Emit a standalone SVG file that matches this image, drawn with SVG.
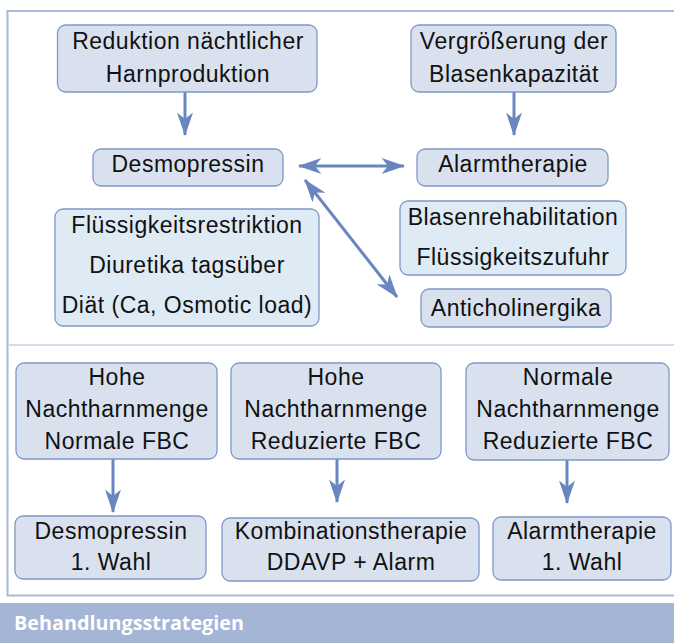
<svg xmlns="http://www.w3.org/2000/svg" width="674" height="643" viewBox="0 0 674 643">
<style>
.n{fill:#d9e1ef;stroke:#7f98c8;stroke-width:1.3}
.l{fill:#deeaf4;stroke:#7f98c8;stroke-width:1.3}
.t{font-family:"Liberation Sans",Arial,sans-serif;font-size:23px;letter-spacing:0.5px;fill:#111;text-anchor:middle}
.c{stroke:#6a86c0;stroke-width:3;fill:none}
</style>
<defs>
<marker id="ah" markerUnits="userSpaceOnUse" markerWidth="24" markerHeight="16" viewBox="0 0 22 15" refX="21" refY="7.5" orient="auto-start-reverse">
<path d="M0,0 L22,7.5 L0,15 L6,7.5 Z" fill="#6a86c0"/>
</marker>
</defs>
<rect x="0" y="0" width="674" height="643" fill="#fff"/>
<g id="frame">
<path d="M674,11 H7.5 V595.5 H674" fill="none" stroke="#a9b9da" stroke-width="2"/>
<line x1="8" y1="345" x2="674" y2="345" stroke="#d5dceb" stroke-width="2"/>
<rect x="0" y="603" width="674" height="40" fill="#a5b5d6"/>
<text x="14" y="630" font-family="'Open Sans','Liberation Sans',sans-serif" font-weight="bold" font-size="19.8px" fill="#fff">Behandlungsstrategien</text>
</g>
<g id="connectors">
<line class="c" x1="185" y1="92" x2="185" y2="135" marker-end="url(#ah)"/>
<line class="c" x1="514" y1="92" x2="514" y2="135" marker-end="url(#ah)"/>
<line class="c" x1="299" y1="166" x2="404" y2="166" marker-start="url(#ah)" marker-end="url(#ah)"/>
<line class="c" x1="305" y1="180" x2="397" y2="297" marker-start="url(#ah)" marker-end="url(#ah)"/>
<line class="c" x1="113" y1="459" x2="113" y2="512" marker-end="url(#ah)"/>
<line class="c" x1="337" y1="459" x2="337" y2="502" marker-end="url(#ah)"/>
<line class="c" x1="567" y1="460" x2="567" y2="503" marker-end="url(#ah)"/>
</g>
<g id="n1"><rect class="n" x="57.5" y="25" width="259.5" height="67" rx="8"/>
<text class="t" x="188" y="49">Reduktion nächtlicher</text><text class="t" x="188" y="82">Harnproduktion</text></g>
<g id="n2"><rect class="n" x="411" y="25" width="205" height="67" rx="8"/>
<text class="t" x="514" y="49">Vergrößerung der</text><text class="t" x="514" y="82">Blasenkapazität</text></g>
<g id="n3"><rect class="n" x="93" y="149" width="190" height="37" rx="8"/>
<text class="t" x="188" y="172">Desmopressin</text></g>
<g id="n4"><rect class="n" x="417" y="149" width="191" height="37" rx="8"/>
<text class="t" x="513" y="172">Alarmtherapie</text></g>
<g id="n5"><rect class="l" x="55" y="209" width="264" height="117" rx="8"/>
<text class="t" x="187" y="233">Flüssigkeitsrestriktion</text><text class="t" x="187" y="273">Diuretika tagsüber</text><text class="t" x="187" y="313">Diät (Ca, Osmotic load)</text></g>
<g id="n6"><rect class="l" x="400" y="201" width="226" height="74" rx="8"/>
<text class="t" x="513" y="225">Blasenrehabilitation</text><text class="t" x="513" y="265">Flüssigkeitszufuhr</text></g>
<g id="n7"><rect class="n" x="421" y="289" width="190" height="38" rx="8"/>
<text class="t" x="516" y="316">Anticholinergika</text></g>
<g id="n8"><rect class="n" x="16" y="363" width="201" height="96" rx="8"/>
<text class="t" x="117" y="385">Hohe</text><text class="t" x="117" y="417">Nachtharnmenge</text><text class="t" x="117" y="449">Normale FBC</text></g>
<g id="n9"><rect class="n" x="231" y="363" width="210" height="96" rx="8"/>
<text class="t" x="336" y="385">Hohe</text><text class="t" x="336" y="417">Nachtharnmenge</text><text class="t" x="336" y="449">Reduzierte FBC</text></g>
<g id="n10"><rect class="n" x="466" y="363" width="203" height="97" rx="8"/>
<text class="t" x="568" y="385">Normale</text><text class="t" x="568" y="417">Nachtharnmenge</text><text class="t" x="568" y="449">Reduzierte FBC</text></g>
<g id="n11"><rect class="n" x="15" y="516" width="191" height="63" rx="8"/>
<text class="t" x="111" y="539">Desmopressin</text><text class="t" x="111" y="570">1. Wahl</text></g>
<g id="n12"><rect class="n" x="222" y="518" width="257" height="63" rx="8"/>
<text class="t" x="351" y="539">Kombinationstherapie</text><text class="t" x="351" y="570">DDAVP + Alarm</text></g>
<g id="n13"><rect class="n" x="493" y="517" width="178" height="63" rx="8"/>
<text class="t" x="582" y="539">Alarmtherapie</text><text class="t" x="582" y="570">1. Wahl</text></g>
</svg>
